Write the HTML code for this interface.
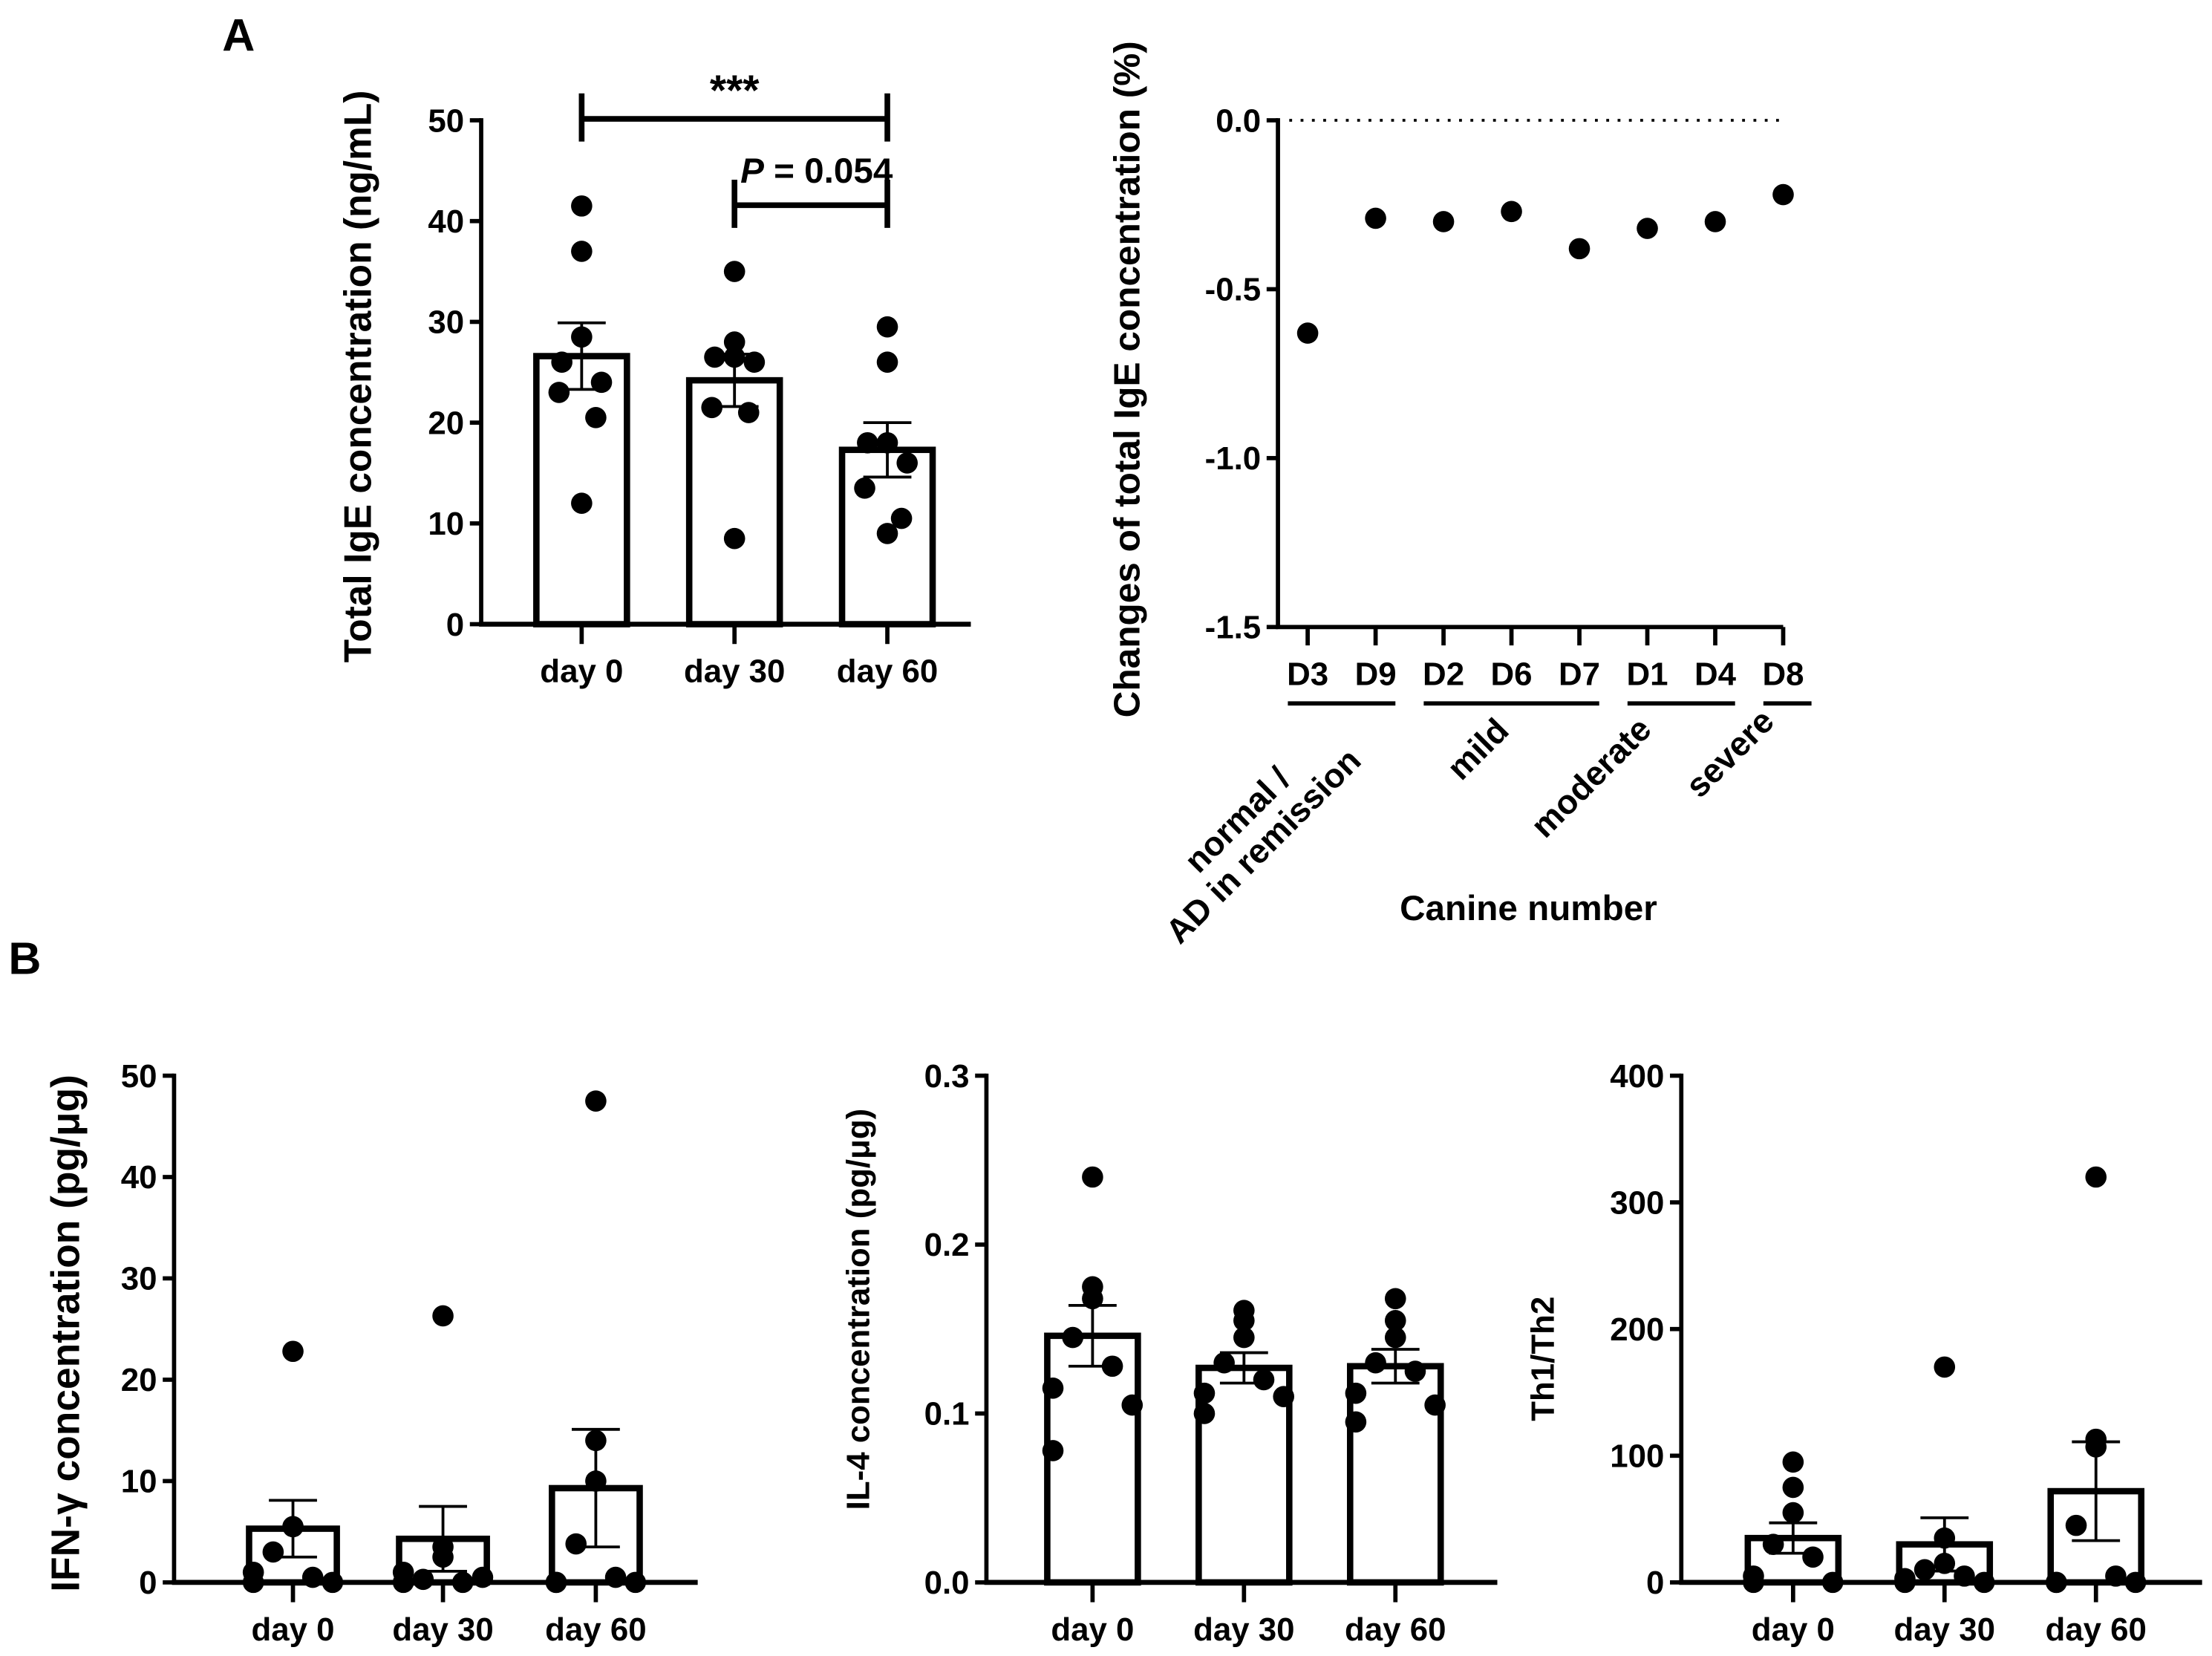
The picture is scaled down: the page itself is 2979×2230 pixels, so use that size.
<!DOCTYPE html>
<html><head><meta charset="utf-8"><style>
html,body{margin:0;padding:0;background:#fff;}
svg{display:block;font-family:"Liberation Sans",Arial,sans-serif;font-weight:bold;}
</style></head><body>
<svg id="fig" width="2979" height="2230" viewBox="0 0 1563 1170" preserveAspectRatio="none" xmlns="http://www.w3.org/2000/svg">
<text x="157" y="36" font-size="32">A</text>
<text x="6" y="688" font-size="32">B</text>
</svg>
<script>
const groups = ["day 0","day 30","day 60"];
// Panel A left: Total IgE
const igeVals = [[41.5,37,28.5,26,24,23,20.5,12],[35,28,26.5,26.5,26,21.5,21,8.5],[29.5,26,18,18,16,13.5,10.5,9]];
const igeMean = [26.6,24.2,17.3];
const igeSem = [3.3,2.6,2.7];
const igeTicks = [0,10,20,30,40,50];
// Panel A right: changes
const canines = ["D3","D9","D2","D6","D7","D1","D4","D8"];
const changeVals = [-0.63,-0.29,-0.30,-0.27,-0.38,-0.32,-0.30,-0.22];
const changeTicks = ["0.0","-0.5","-1.0","-1.5"];
const severityGroups = ["normal /|AD in remission","mild","moderate","severe"];
const severityIdx = [[0,1],[2,4],[5,6],[7,7]];
// Panel B
const ifnVals = [[22.8,5.5,5.5,3,0.5,0,0,1],[26.3,3.5,2.5,0.3,0,0,0.5,1],[47.5,14,10,3.8,0.5,0,0,0]];
const ifnMean = [5.3,4.3,9.3];
const ifnSem = [2.8,3.2,5.8];
const ifnTicks = [0,10,20,30,40,50];
const il4Vals = [[0.24,0.175,0.168,0.145,0.128,0.115,0.105,0.078],[0.161,0.155,0.145,0.13,0.12,0.112,0.11,0.1],[0.168,0.155,0.145,0.13,0.125,0.112,0.105,0.095]];
const il4Mean = [0.146,0.127,0.128];
const il4Sem = [0.018,0.009,0.01];
const il4Ticks = ["0.0","0.1","0.2","0.3"];
const thVals = [[95,75,55,30,20,5,0,0],[170,35,15,10,5,3,0,0],[320,113,107,45,5,0,0,0]];
const thMean = [35,30,72];
const thSem = [12,21,39];
const thTicks = [0,100,200,300,400];

const NS="http://www.w3.org/2000/svg";
const svg=document.getElementById('fig');
function mk(tag,attrs,parent){const e=document.createElementNS(NS,tag);for(const k in attrs)e.setAttribute(k,attrs[k]);(parent||svg).appendChild(e);return e;}
const jitter=[0,0,0,-14,14,-16,10,0];
const jitterB=[0,0,0,-14,14,-28,28,-28];

function barPanel(o){
  const g=mk('g',{});
  
  
  const y=v=>o.y0-(v-o.min)/(o.max-o.min)*(o.y0-o.y1);
  const ax=mk('line',{x1:o.ax,y1:y(o.max)-1.5,x2:o.ax,y2:o.y0,stroke:'#000','stroke-width':3},g);
  
  const xa=mk('line',{x1:o.ax-1.5,y1:o.y0,x2:o.axEnd,y2:o.y0,stroke:'#000','stroke-width':3.5},g);
  
  o.ticks.forEach(t=>{const v=parseFloat(t);
    mk('line',{x1:o.ax-8,y1:y(v),x2:o.ax,y2:y(v),stroke:'#000','stroke-width':3},g);
    const tx=mk('text',{x:o.ax-12,y:y(v)+8,'font-size':23,'text-anchor':'end'},g);tx.textContent=t;
    });
  o.cx.forEach((cx,i)=>{
    mk('line',{x1:cx,y1:o.y0,x2:cx,y2:o.y0+14,stroke:'#000','stroke-width':3},g);
    const tl=mk('text',{x:cx,y:o.y0+41,'font-size':23,'text-anchor':'middle'},g);tl.textContent=groups[i];
    
    const bw=o.bw;
    const r=mk('rect',{x:cx-bw/2+2,y:y(o.mean[i]),width:bw-4,height:o.y0-y(o.mean[i]),fill:'none',stroke:'#000','stroke-width':4.5},g);
    
    o.vals[i].forEach((v,j)=>{const c=mk('circle',{cx:cx+o.jit[j],cy:y(v),r:7.5,fill:'#000'},g);
      });
    const hi=y(o.mean[i]+o.sem[i]),lo=y(o.mean[i]-o.sem[i]);
    mk('line',{x1:cx,y1:hi,x2:cx,y2:lo,stroke:'#000','stroke-width':2},g);
    mk('line',{x1:cx-17,y1:hi,x2:cx+17,y2:hi,stroke:'#000','stroke-width':2},g);
    mk('line',{x1:cx-17,y1:lo,x2:cx+17,y2:lo,stroke:'#000','stroke-width':2},g);
  });
  const tt=mk('text',{transform:`translate(${o.titleX},${o.titleY}) rotate(-90)`,'font-size':o.tfs||23,'text-anchor':'middle'},g);
  tt.textContent=o.title;
  return y;
}
barPanel({name:'total-ige-chart',ax:340,axEnd:686,y0:441,y1:85,min:0,max:50,cx:[411,519,627],bw:68,ticks:igeTicks.map(String),vals:igeVals,mean:igeMean,sem:igeSem,jit:jitter,title:'Total IgE concentration (ng/mL)',titleX:262,titleY:266,tfs:27});
function sig(x1,x2,yy,label,name,italic){
  const g=mk('g',{});
  mk('line',{x1:x1,y1:yy,x2:x2,y2:yy,stroke:'#000','stroke-width':4},g);
  mk('line',{x1:x1,y1:yy-18,x2:x1,y2:yy+16,stroke:'#000','stroke-width':4},g);
  mk('line',{x1:x2,y1:yy-18,x2:x2,y2:yy+16,stroke:'#000','stroke-width':4},g);
  const t=mk('text',{x:(x1+x2)/2,y:yy-(italic?16:10),'font-size':italic?25:30,'text-anchor':'middle'},g);
  if(italic){const a=mk('tspan',{'font-style':'italic'},t);a.textContent='P';const b=mk('tspan',{},t);b.textContent=' = 0.054';t.setAttribute('x',(x1+x2)/2+4);}else t.textContent=label;
}
sig(411,627,84,'***','sig-bar-day0-day60',false);
sig(519,627,145,'','sig-bar-day30-day60',true);

(function(){
  const g=mk('g',{});
  const ax=903,y0=443,y1=85,xs=i=>924+i*48;
  const y=v=>y1+(0-v)/1.5*(y0-y1);
  mk('line',{x1:ax,y1:y1-1.5,x2:ax,y2:y0,stroke:'#000','stroke-width':3},g);
  mk('line',{x1:ax-1.5,y1:y0,x2:xs(canines.length-1),y2:y0,stroke:'#000','stroke-width':3},g);
  const dl=mk('line',{x1:ax+8,y1:y(0),x2:1260,y2:y(0),stroke:'#000','stroke-width':2,'stroke-dasharray':'2 6'},g);
  
  changeTicks.forEach(t=>{const v=parseFloat(t);
    mk('line',{x1:ax-8,y1:y(v),x2:ax,y2:y(v),stroke:'#000','stroke-width':3},g);
    const tx=mk('text',{x:ax-12,y:y(v)+8,'font-size':23,'text-anchor':'end'},g);tx.textContent=t;
    });
  canines.forEach((c,i)=>{
    mk('line',{x1:xs(i),y1:y0,x2:xs(i),y2:y0+13,stroke:'#000','stroke-width':3},g);
    const t=mk('text',{x:xs(i),y:y0+41,'font-size':23,'text-anchor':'middle'},g);t.textContent=c;
    
    const p=mk('circle',{cx:xs(i),cy:y(changeVals[i]),r:7.5,fill:'#000'},g);
    
  });
  const glab=[[880,585],[1050,535],[1130,555],[1228,538]];
  severityGroups.forEach((s,k)=>{
    const [a,b]=severityIdx[k];
    const l=mk('line',{x1:xs(a)-14,y1:497,x2:xs(b)+(k==3?20:14),y2:497,stroke:'#000','stroke-width':3},g);
    
    const t=mk('text',{transform:`translate(${glab[k][0]},${glab[k][1]}) rotate(-45)`,'font-size':24,'text-anchor':'middle'},g);
    
    s.split('|').forEach((ln,m)=>{const ts=mk('tspan',{x:0,dy:m?26:0},t);ts.textContent=ln;});
  });
  const xt=mk('text',{x:1080,y:650,'font-size':25,'text-anchor':'middle'},g);xt.textContent='Canine number';
  
  const yt=mk('text',{transform:'translate(805,268) rotate(-90)','font-size':26,'text-anchor':'middle'},g);
  yt.textContent='Changes of total IgE concentration (%)';
})();

barPanel({name:'ifn-gamma-chart',ax:123,axEnd:493,y0:1118,y1:760,min:0,max:50,cx:[207,313,421],bw:66,ticks:ifnTicks.map(String),vals:ifnVals,mean:ifnMean,sem:ifnSem,jit:jitterB,title:'IFN-γ concentration (pg/μg)',titleX:56,titleY:942,tfs:28});
barPanel({name:'il4-chart',ax:697,axEnd:1058,y0:1118,y1:760,min:0,max:0.3,cx:[772,879,986],bw:68,ticks:il4Ticks,vals:il4Vals,mean:il4Mean,sem:il4Sem,jit:jitterB,title:'IL-4 concentration (pg/μg)',titleX:614,titleY:925});
barPanel({name:'th1-th2-chart',ax:1188,axEnd:1556,y0:1118,y1:760,min:0,max:400,cx:[1267,1374,1481],bw:68,ticks:thTicks.map(String),vals:thVals,mean:thMean,sem:thSem,jit:jitterB,title:'Th1/Th2',titleX:1098,titleY:960});
</script>
</body></html>
